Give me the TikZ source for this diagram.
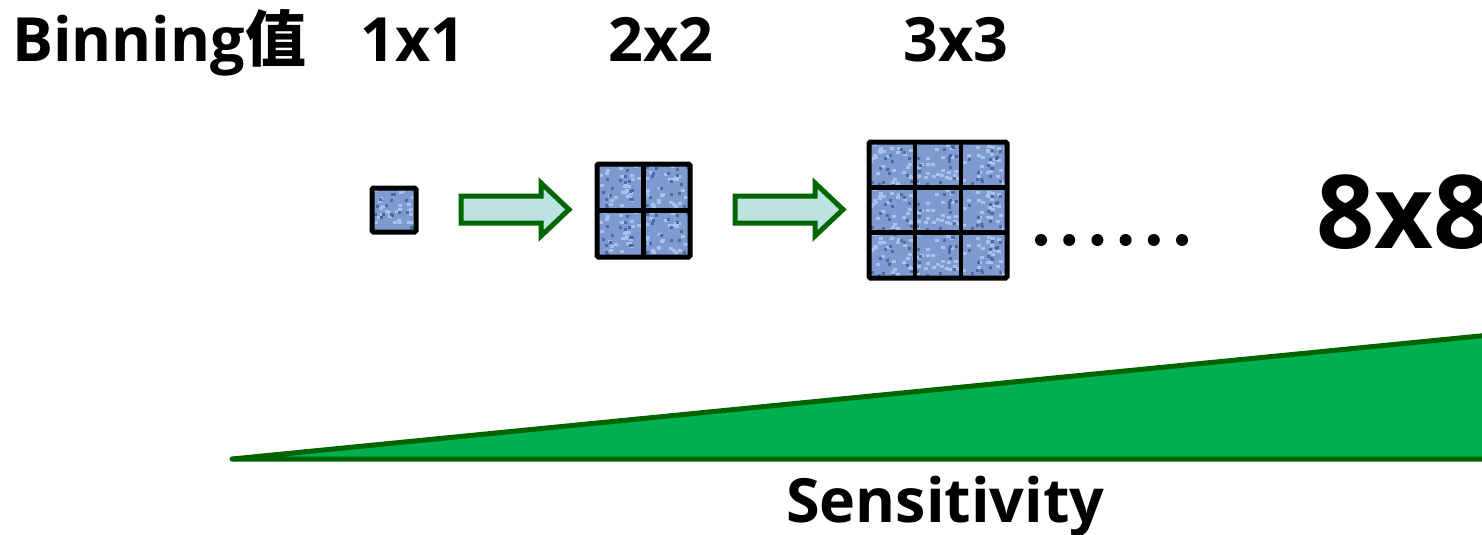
\documentclass[tikz,border=0pt]{standalone}
\usepackage{fontspec}
\setmainfont{Open Sans}
\newfontfamily\cjk{Noto Sans CJK TC}
\usetikzlibrary{calc}
\definecolor{pix}{HTML}{7E9BD0}
\definecolor{pixlt}{HTML}{A9C2EC}
\definecolor{pixdk}{HTML}{4E6AA4}
\definecolor{arrfill}{HTML}{BDE2E2}
\definecolor{arrline}{HTML}{006600}
\definecolor{trifill}{HTML}{00B050}
\definecolor{triline}{HTML}{006400}
\tikzset{
  lbl/.style={anchor=base west, inner sep=0pt, font=\fontsize{61}{70}\selectfont\bfseries},
  bigl/.style={anchor=base west, inner sep=0pt, font=\fontsize{102}{110}\selectfont\bfseries},
  cellbox/.style={draw=black, line width=5pt, rounded corners=1.5pt},
  gridline/.style={line width=4.5pt},
  blockarrow/.style={draw=arrline, fill=arrfill, line width=5pt, line join=miter},
  dotmark/.style={circle, fill=black, inner sep=0pt, minimum size=12pt},
}
% cell macro: corner x,y (in px, y down) and size
\newcommand{\pixcell}[3]{%
  \fill[pix] (#1,#2) rectangle ++(#3,#3);
  \pgfmathsetseed{#1}
  \foreach \k in {1,...,26}{
    \pgfmathsetmacro{\rx}{#1+rnd*(#3-5)}
    \pgfmathsetmacro{\ry}{#2+rnd*(#3-5)}
    \fill[pixlt] (\rx,\ry) rectangle ++(4,3);
  }
  \foreach \k in {1,...,16}{
    \pgfmathsetmacro{\rx}{#1+rnd*(#3-4)}
    \pgfmathsetmacro{\ry}{#2+rnd*(#3-4)}
    \fill[pixdk] (\rx,\ry) rectangle ++(3,3);
  }
}
\begin{document}
\begin{tikzpicture}[x=1pt,y=-1pt]
\useasboundingbox (0,0) rectangle (1482,535);
% labels
\node[lbl] (binlbl) at (12,62) {Binning{\cjk\bfseries 值}};
\node[lbl] (l1) at (360,62) {1x1};
\node[lbl] (l2) at (608,62) {2x2};
\node[lbl] (l3) at (903,62) {3x3};
% triangle
\filldraw[fill=trifill, draw=triline, line width=5pt, line join=round]
  (232,459) -- (1490,335) -- (1490,459) -- cycle;
\node[lbl] (sens) at (786,522) {Sensitivity};
% 1x1
\pixcell{372}{188}{44}
\draw[cellbox] (372,188) rectangle (416,232);
\coordinate (g1) at (394,210);
% arrow 1
\draw[blockarrow] (461,196) -- (541,196) -- (541,183) -- (569,209.5) -- (541,236) -- (541,223) -- (461,223) -- cycle;
% 2x2
\foreach \i in {0,1}{\foreach \j in {0,1}{
  \pixcell{597+\i*46.5}{164+\j*46.5}{46.5}
}}
\draw[cellbox] (597,164) rectangle (690,257);
\draw[gridline] (643.5,164) -- (643.5,257) (597,210.5) -- (690,210.5);
\coordinate (g2) at (643.5,210.5);
% arrow 2
\draw[blockarrow] (735,196) -- (815,196) -- (815,183) -- (843,209.5) -- (815,236) -- (815,223) -- (735,223) -- cycle;
% 3x3
\foreach \i in {0,1,2}{\foreach \j in {0,1,2}{
  \pixcell{869+\i*46}{142+\j*45.3}{46}
}}
\draw[cellbox] (869,142) rectangle (1007,278);
\draw[gridline] (915,142) -- (915,278) (961,142) -- (961,278)
  (869,187.3) -- (1007,187.3) (869,232.6) -- (1007,232.6);
% dots
\foreach \n in {0,...,5}{
  \node[dotmark] (d\n) at (1041+\n*28.2,240) {};
}
% 8x8
\node[bigl] (l8) at (1316,248) {8x8};
\end{tikzpicture}
\end{document}
